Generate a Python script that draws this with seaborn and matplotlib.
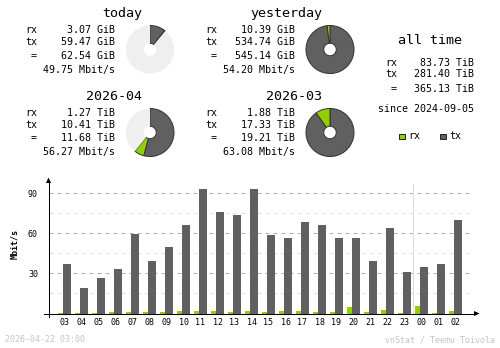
import numpy as np
import pandas as pd
import matplotlib
matplotlib.use("Agg")
import matplotlib.pyplot as plt
from matplotlib.transforms import Affine2D
from matplotlib.lines import Line2D
from matplotlib.patches import Polygon, Rectangle
import seaborn as sns

# ---------------- data ----------------
hours = ["03", "04", "05", "06", "07", "08", "09", "10", "11", "12", "13", "14",
         "15", "16", "17", "18", "19", "20", "21", "22", "23", "00", "01", "02"]
tx_mbit = [37.0, 19.0, 26.5, 33.2, 59.7, 39.2, 49.7, 66.2, 93.2, 76.0, 73.7, 93.2,
           58.7, 56.5, 68.5, 66.2, 56.5, 56.5, 39.2, 64.0, 31.0, 34.7, 37.0, 70.0]
rx_mbit = [0.3, 0.3, 0.3, 1.0, 1.0, 1.0, 1.0, 1.7, 1.7, 1.7, 1.0, 1.7,
           1.0, 1.7, 1.7, 1.0, 1.0, 4.7, 1.0, 2.5, 0.2, 5.5, 0.2, 1.7]
ytick_values = [30, 60, 90]

periods = ["today", "yesterday", "2026-04", "2026-03"]
period_rx = ["3.07 GiB", "10.39 GiB", "1.27 TiB", "1.88 TiB"]
period_tx = ["59.47 GiB", "534.74 GiB", "10.41 TiB", "17.33 TiB"]
period_total = ["62.54 GiB", "545.14 GiB", "11.68 TiB", "19.21 TiB"]
period_rate = ["49.75 Mbit/s", "54.20 Mbit/s", "56.27 Mbit/s", "63.08 Mbit/s"]
period_rx_num = [3.07, 10.39, 1.27, 1.88]
period_tx_num = [59.47, 534.74, 10.41, 17.33]
pie_fill = [0.11, 1.0, 0.608, 1.0]

alltime_rx = "83.73 TiB"
alltime_tx = "281.40 TiB"
alltime_total = "365.13 TiB"
alltime_since = "since 2024-09-05"
footer_left = "2026-04-22 03:00"
footer_right = "vnStat / Teemu Toivola"

# ---------------- style ----------------
RX = "#92CF00"
TX = "#606060"
BG = "#EFEFEF"
EDGE = "#333333"
LINE = "#B0B0B0"
LINEL = "#E0E0E0"
FOOT = "#C4C4C4"
MONO = "DejaVu Sans Mono"
SMALL = 7.2
LARGE = 9.6
TINY = 6.0

W, H = 500, 348
fig = plt.figure(figsize=(W / 100, H / 100), dpi=100)
fig.patch.set_facecolor("white")
T = Affine2D().scale(1 / W, -1 / H).translate(0, 1) + fig.transFigure


def ptext(x, y, s, size=SMALL, ha="left", va="baseline", color="black", **kw):
    fig.text(x, y, s, transform=T, fontsize=size, ha=ha, va=va,
             family=MONO, color=color, **kw)


# ---------------- summary blocks ----------------
block_x = [25, 205, 25, 205]
block_dy = [0, 0, 82.7, 82.7]
pie_c = [(150, 49.5), (330, 49.5), (150, 132.5), (330, 132.5)]
R = 24.5
for i in range(4):
    x0, dy = block_x[i], block_dy[i]
    ptext(x0 + 117, 16.8 + dy, periods[i], size=LARGE, ha="right")
    ptext(x0, 33 + dy, "rx")
    ptext(x0 + 90, 33 + dy, period_rx[i], ha="right")
    ptext(x0, 45 + dy, "tx")
    ptext(x0 + 90, 45 + dy, period_tx[i], ha="right")
    ptext(x0 + 6, 58.7 + dy, "=")
    ptext(x0 + 90, 58.7 + dy, period_total[i], ha="right")
    ptext(x0 + 90, 72.7 + dy, period_rate[i], ha="right")

    cx, cy = pie_c[i]
    pax = fig.add_axes([(cx - R) / W, (H - cy - R) / H, 2 * R / W, 2 * R / H])
    tot = period_rx_num[i] + period_tx_num[i]
    f = pie_fill[i]
    vals = [period_tx_num[i] / tot * f, period_rx_num[i] / tot * f, max(1 - f, 0)]
    wedges, _ = pax.pie(vals, colors=[TX, RX, BG], startangle=90, counterclock=False,
                        radius=1, wedgeprops=dict(width=0.74, linewidth=0))
    for w in wedges[:2]:
        w.set_edgecolor(EDGE)
        w.set_linewidth(0.7)
    pax.set_xlim(-1.02, 1.02)
    pax.set_ylim(-1.02, 1.02)
    pax.axis("off")

# all time block
ptext(430, 44.3, "all time", size=LARGE, ha="center")
ptext(385, 65.7, "rx")
ptext(474, 65.7, alltime_rx, ha="right")
ptext(385, 77.3, "tx")
ptext(474, 77.3, alltime_tx, ha="right")
ptext(391, 91.7, "=")
ptext(474, 91.7, alltime_total, ha="right")
ptext(378, 112, alltime_since)

# legend
for sx, col, lab in [(399, RX, "rx"), (440, TX, "tx")]:
    fig.add_artist(Rectangle((sx, 133.5), 5.5, 5.5, transform=T, facecolor=col,
                             edgecolor="#202020", linewidth=0.7))
    ptext(sx + 9, 139.3, lab)

# ---------------- hourly bar chart ----------------
y_bot, y_top = 313.5, 180.0
x_left, x_right = 48.5, 473.0
ax = fig.add_axes([x_left / W, (H - y_bot) / H, (x_right - x_left) / W, (y_bot - y_top) / H])

df = pd.DataFrame({"hour": hours, "tx": tx_mbit, "rx": rx_mbit})

for v in [15, 30, 45, 60, 75, 90]:
    ax.axhline(v, color=LINE if v % 30 == 0 else LINEL, lw=0.72,
               linestyle=(0, (4, 4)), zorder=0)
ax.axvline(20.5, ymin=0, ymax=0.97, color="#DDDDDD", lw=0.8, zorder=0)

n0 = len(ax.patches)
sns.barplot(data=df, x="hour", y="tx", order=hours, color=TX, width=8 / 17,
            saturation=1, linewidth=0, errorbar=None, ax=ax, zorder=2)
for p in ax.patches[n0:]:
    p.set_x(p.get_x() + 2.5 / 17)
n1 = len(ax.patches)
sns.barplot(data=df, x="hour", y="rx", order=hours, color=RX, width=5 / 17,
            saturation=1, linewidth=0, errorbar=None, ax=ax, zorder=2)
for p in ax.patches[n1:]:
    p.set_x(p.get_x() - 4 / 17)

slot = 17.0
c0 = 64.5
ax.set_xlim((x_left - c0) / slot, (x_right - c0) / slot)
ax.set_ylim(0, 100)
ax.set_xlabel("")
ax.set_ylabel("")
for s in ax.spines.values():
    s.set_visible(False)
ax.set_facecolor("none")
ax.set_yticks(ytick_values)
ax.set_yticklabels([str(v) for v in ytick_values], family=MONO, fontsize=TINY)
ax.set_xticks(range(len(hours)))
ax.set_xticklabels(hours, family=MONO, fontsize=TINY)
ax.tick_params(axis="x", length=0, pad=3.0)
ax.tick_params(axis="y", length=0, pad=7.6)

# axes lines + arrows
fig.add_artist(Line2D([48.5, 48.5], [182.5, 316.7], transform=T, color="black", lw=0.75))
fig.add_artist(Line2D([44, 476], [313.5, 313.5], transform=T, color="black", lw=0.75))
fig.add_artist(Polygon([(48.5, 177.5), (46, 183), (51, 183)], closed=True, transform=T,
                       facecolor="black", edgecolor="none"))
fig.add_artist(Polygon([(479.5, 313.5), (474, 311), (474, 316)], closed=True, transform=T,
                       facecolor="black", edgecolor="none"))

ptext(14.5, 244, "Mbit/s", size=TINY, ha="center", va="center", rotation=90,
      fontweight="bold")

# footer
ptext(5, 342.5, footer_left, size=TINY, color=FOOT)
ptext(495, 342.5, footer_right, size=TINY, color=FOOT, ha="right")

fig.savefig("out.png", dpi=100, facecolor="white")
